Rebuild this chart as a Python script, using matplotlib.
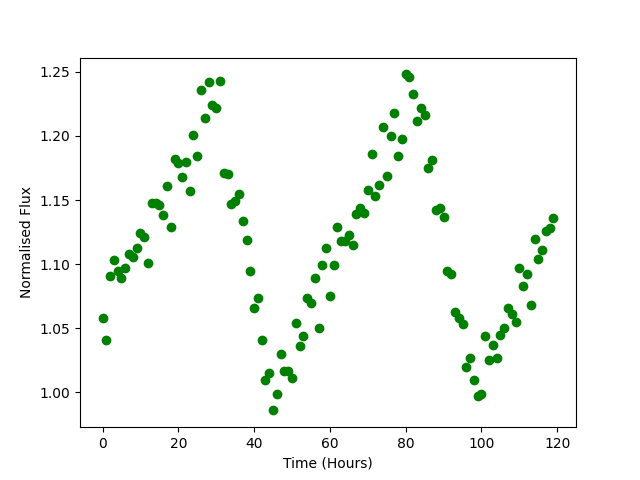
import numpy as np
import matplotlib
matplotlib.use("Agg")
import matplotlib.pyplot as plt

# Hourly normalised flux readings
hours = np.arange(0, 120)
flux = [
    1.058, 1.041, 1.091, 1.103, 1.095, 1.089, 1.097, 1.108, 1.106, 1.113,
    1.124, 1.121, 1.101, 1.148, 1.148, 1.146, 1.138, 1.161, 1.129, 1.182,
    1.179, 1.168, 1.180, 1.157, 1.201, 1.184, 1.236, 1.214, 1.242, 1.224,
    1.222, 1.243, 1.171, 1.170, 1.147, 1.149, 1.155, 1.134, 1.119, 1.095,
    1.066, 1.074, 1.041, 1.010, 1.015, 0.986, 0.999, 1.030, 1.017, 1.017,
    1.011, 1.054, 1.036, 1.044, 1.074, 1.070, 1.089, 1.050, 1.099, 1.113,
    1.075, 1.099, 1.129, 1.118, 1.118, 1.123, 1.115, 1.139, 1.144, 1.140,
    1.158, 1.186, 1.153, 1.162, 1.207, 1.169, 1.200, 1.218, 1.184, 1.198,
    1.248, 1.246, 1.233, 1.212, 1.222, 1.216, 1.175, 1.181, 1.142, 1.144,
    1.137, 1.095, 1.092, 1.063, 1.058, 1.053, 1.020, 1.027, 1.010, 0.997,
    0.999, 1.044, 1.025, 1.037, 1.027, 1.045, 1.050, 1.066, 1.061, 1.055,
    1.097, 1.083, 1.092, 1.068, 1.120, 1.104, 1.111, 1.126, 1.128, 1.136,
]

plt.figure(figsize=(6.4, 4.8), dpi=100)
plt.plot(hours, flux, 'o', color='green')
plt.xlabel("Time (Hours)")
plt.ylabel("Normalised Flux")
plt.savefig("out.png")
